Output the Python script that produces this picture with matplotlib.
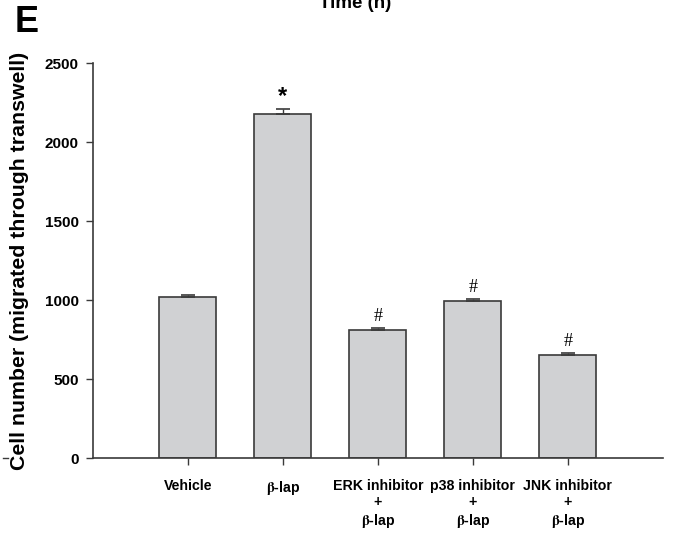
import matplotlib
matplotlib.use("Agg")
import matplotlib.pyplot as plt
from matplotlib.lines import Line2D

plt.rcParams['font.family'] = ['Liberation Sans', 'DejaVu Sans']
plt.rcParams['font.weight'] = 'bold'
plt.rcParams['mathtext.fontset'] = 'stix'

# data
groups = ["Vehicle", r"$\mathrm{\beta}$-lap",
          "ERK inhibitor\n+\n$\\mathrm{\\beta}$-lap",
          "p38 inhibitor\n+\n$\\mathrm{\\beta}$-lap",
          "JNK inhibitor\n+\n$\\mathrm{\\beta}$-lap"]
cells = [1020, 2180, 810, 995, 650]
sem = [10, 28, 15, 12, 15]
marks = ["", "*", "#", "#", "#"]
yticks = [0, 500, 1000, 1500, 2000, 2500]

fig = plt.figure(figsize=(6.92, 5.44), dpi=100)
ax = fig.add_axes([0.134, 0.158, 0.824, 0.726])

x = list(range(len(groups)))
ax.bar(x, cells, width=0.6, color="#d0d1d3", edgecolor="#3a3a3a", linewidth=1.2, zorder=2)
ax.errorbar(x, cells, yerr=[[0] * len(sem), sem], fmt="none", ecolor="#3a3a3a",
            elinewidth=1.0, capsize=5, capthick=1.2, zorder=3)

for xi, v, e, m in zip(x, cells, sem, marks):
    if m == "*":
        ax.annotate(m, (xi, v + e), xytext=(0, 1), textcoords="offset points",
                    ha="center", va="bottom", fontsize=17, fontweight="bold")
    elif m:
        ax.annotate(m, (xi, v + e), xytext=(0, 2), textcoords="offset points",
                    ha="center", va="bottom", fontsize=13, family="Liberation Serif",
                    fontweight="normal")

ax.set_xlim(-1.0, 5.0)
ax.set_ylim(0, 2500)
ax.set_yticks(yticks)
ax.set_yticklabels([str(t) for t in yticks], fontsize=11, fontweight="bold")
ax.set_xticks(x)
ax.set_xticklabels(groups, fontsize=10.2, fontweight="bold", linespacing=1.2)
ax.tick_params(axis="both", direction="out", length=5, width=1.0, color="#3a3a3a")
ax.tick_params(axis="x", pad=10)
ax.tick_params(axis="y", pad=5)
for s in ["top", "right"]:
    ax.spines[s].set_visible(False)
for s in ["left", "bottom"]:
    ax.spines[s].set_linewidth(1.2)
    ax.spines[s].set_color("#3a3a3a")

ax.set_ylabel("Cell number (migrated through transwell)", fontsize=15.3, fontweight="bold")
ax.yaxis.set_label_coords(-0.112, 0.5)

fig.text(0.021, 0.99, "E", fontsize=26, fontweight="bold", va="top", ha="left")
fig.text(0.513, 0.985, "Time (h)", fontsize=13.5, fontweight="bold", ha="center", va="baseline")
fig.add_artist(Line2D([0.004, 0.012], [0.158, 0.158], color="#3a3a3a", lw=1.0))

plt.savefig("out.png", dpi=100)
plt.close(fig)
